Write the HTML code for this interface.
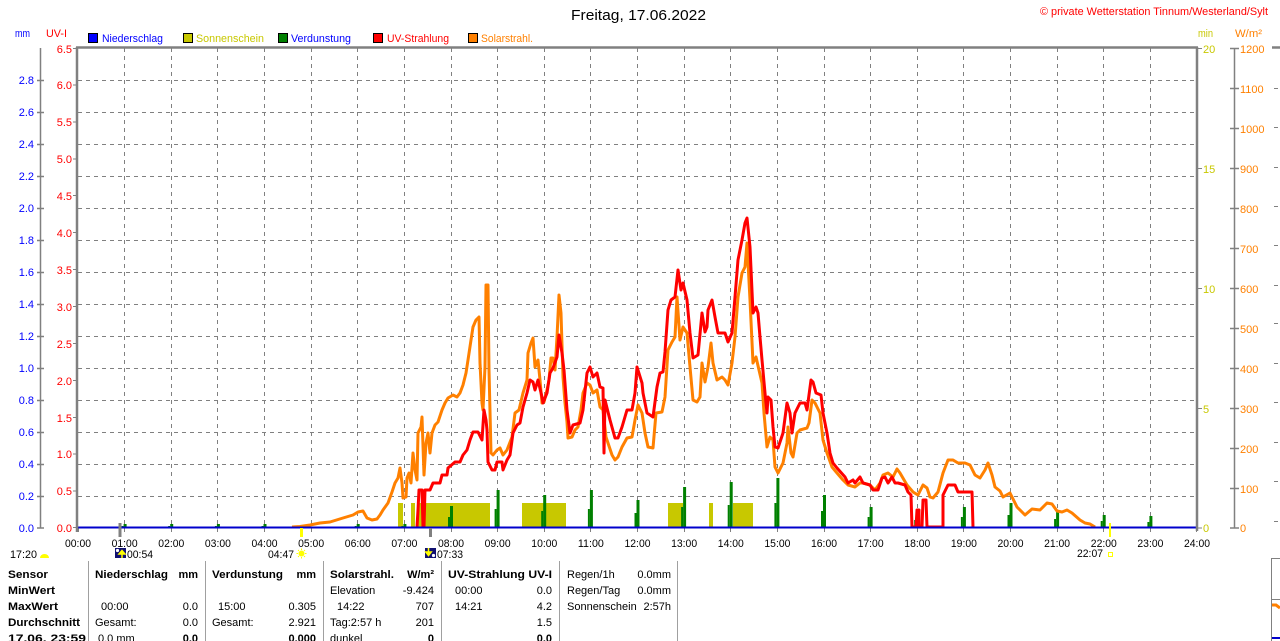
<!DOCTYPE html>
<html><head><meta charset="utf-8"><style>
html,body{margin:0;padding:0;background:#fff;}
svg{display:block;}
text{font-family:"Liberation Sans",Arial,sans-serif;font-size:11px;}
.b{font-weight:bold;}
</style></head><body>
<svg width="1280" height="641" viewBox="0 0 1280 641" xmlns="http://www.w3.org/2000/svg">
<rect x="0" y="0" width="1280" height="641" fill="#fff"/>

<!-- Title -->
<text x="571" y="20" style="font-size:15px" textLength="135" lengthAdjust="spacingAndGlyphs">Freitag, 17.06.2022</text>
<text x="1040" y="15" fill="#ff0000" textLength="228" lengthAdjust="spacingAndGlyphs">© private Wetterstation Tinnum/Westerland/Sylt</text>

<!-- axis headers -->
<text x="15" y="37" fill="#0000ff" textLength="15" lengthAdjust="spacingAndGlyphs">mm</text>
<text x="46" y="37" fill="#ff0000" textLength="21" lengthAdjust="spacingAndGlyphs">UV-I</text>
<text x="1198" y="37" fill="#c8c800" textLength="15" lengthAdjust="spacingAndGlyphs">min</text>
<text x="1235" y="37" fill="#ff8000" textLength="27" lengthAdjust="spacingAndGlyphs">W/m²</text>

<!-- legend -->
<rect x="88.5" y="33.5" width="9" height="9" fill="#0000ff" stroke="#000"/>
<text x="102" y="42" fill="#0000ff" textLength="61" lengthAdjust="spacingAndGlyphs">Niederschlag</text>
<rect x="183.5" y="33.5" width="9" height="9" fill="#c8c800" stroke="#000"/>
<text x="196" y="42" fill="#c8c800" textLength="68" lengthAdjust="spacingAndGlyphs">Sonnenschein</text>
<rect x="278.5" y="33.5" width="9" height="9" fill="#008000" stroke="#000"/>
<text x="291" y="42" fill="#0000ff" textLength="60" lengthAdjust="spacingAndGlyphs">Verdunstung</text>
<rect x="373.5" y="33.5" width="9" height="9" fill="#ff0000" stroke="#000"/>
<text x="387" y="42" fill="#ff0000" textLength="62" lengthAdjust="spacingAndGlyphs">UV-Strahlung</text>
<rect x="468.5" y="33.5" width="9" height="9" fill="#ff8000" stroke="#000"/>
<text x="481" y="42" fill="#ff8000" textLength="52" lengthAdjust="spacingAndGlyphs">Solarstrahl.</text>

<!-- grid -->
<g stroke="#808080" stroke-width="1" stroke-dasharray="4,4" fill="none">
<path d="M78 80.5H1197M78 112.5H1197M78 144.5H1197M78 176.5H1197M78 208.5H1197M78 240.5H1197M78 272.5H1197M78 304.5H1197M78 336.5H1197M78 368.5H1197M78 400.5H1197M78 432.5H1197M78 464.5H1197M78 496.5H1197"/>
<path d="M124.5 48V528M171.5 48V528M217.5 48V528M264.5 48V528M311.5 48V528M357.5 48V528M404.5 48V528M451.5 48V528M497.5 48V528M544.5 48V528M590.5 48V528M637.5 48V528M684.5 48V528M730.5 48V528M777.5 48V528M824.5 48V528M870.5 48V528M917.5 48V528M963.5 48V528M1010.5 48V528M1057.5 48V528M1103.5 48V528M1150.5 48V528"/>
</g>

<!-- hour ticks below axis -->
<g stroke="#808080" stroke-width="1">
<path d="M78.5 528V532M124.5 528V532M171.5 528V532M217.5 528V532M264.5 528V532M311.5 528V532M357.5 528V532M404.5 528V532M451.5 528V532M497.5 528V532M544.5 528V532M590.5 528V532M637.5 528V532M684.5 528V532M730.5 528V532M777.5 528V532M824.5 528V532M870.5 528V532M917.5 528V532M963.5 528V532M1010.5 528V532M1057.5 528V532M1103.5 528V532M1150.5 528V532M1196.5 528V532"/>
</g>

<!-- Sonnenschein bars -->
<g fill="#c8c800">
<rect x="398" y="503" width="5" height="25"/>
<rect x="411" y="503" width="4" height="25"/>
<rect x="417" y="503" width="73" height="25"/>
<rect x="522" y="503" width="44" height="25"/>
<rect x="668" y="503" width="15" height="25"/>
<rect x="709" y="503" width="4" height="25"/>
<rect x="733" y="503" width="20" height="25"/>
</g>

<!-- Verdunstung bars -->
<g fill="#008000">
<rect x="123.6" y="524" width="3" height="4"/><rect x="121.6" y="526" width="2" height="2"/>
<rect x="170.2" y="524" width="3" height="4"/><rect x="168.2" y="526" width="2" height="2"/>
<rect x="216.9" y="524" width="3" height="4"/><rect x="214.9" y="526" width="2" height="2"/>
<rect x="263.5" y="524" width="3" height="4"/><rect x="261.5" y="526" width="2" height="2"/>
<rect x="356.7" y="524" width="3" height="4"/><rect x="354.7" y="526" width="2" height="2"/>
<rect x="403.4" y="524" width="3" height="4"/><rect x="401.4" y="526" width="2" height="2"/>
<rect x="450" y="506" width="3" height="22"/><rect x="448" y="517" width="2" height="11"/>
<rect x="496.6" y="490" width="3" height="38"/><rect x="494.6" y="509" width="2" height="19"/>
<rect x="543.2" y="495" width="3" height="33"/><rect x="541.2" y="511" width="2" height="17"/>
<rect x="589.9" y="490" width="3" height="38"/><rect x="587.9" y="509" width="2" height="19"/>
<rect x="636.5" y="500" width="3" height="28"/><rect x="634.5" y="513" width="2" height="15"/>
<rect x="683.1" y="487" width="3" height="41"/><rect x="681.1" y="507" width="2" height="21"/>
<rect x="729.7" y="482" width="3" height="46"/><rect x="727.7" y="505" width="2" height="23"/>
<rect x="776.4" y="478" width="3" height="50"/><rect x="774.4" y="503" width="2" height="25"/>
<rect x="823" y="495" width="3" height="33"/><rect x="821" y="511" width="2" height="17"/>
<rect x="869.6" y="507" width="3" height="21"/><rect x="867.6" y="517" width="2" height="11"/>
<rect x="916.2" y="512" width="3" height="16"/><rect x="914.2" y="520" width="2" height="8"/>
<rect x="962.9" y="507" width="3" height="21"/><rect x="960.9" y="517" width="2" height="11"/>
<rect x="1009.5" y="503" width="3" height="25"/><rect x="1007.5" y="515" width="2" height="13"/>
<rect x="1056.1" y="510" width="3" height="18"/><rect x="1054.1" y="519" width="2" height="9"/>
<rect x="1102.7" y="515" width="3" height="13"/><rect x="1100.7" y="521" width="2" height="7"/>
<rect x="1149.4" y="516" width="3" height="12"/><rect x="1147.4" y="522" width="2" height="6"/>
</g>

<!-- Solarstrahlung -->
<polyline fill="none" stroke="#ff8000" stroke-width="3" stroke-linejoin="round" points="292,527 300,526.5 310,525 320,523 330,522 343,518 353,515 358,512 363,511 367,518 372,520 377,519 380,515 383,510 388,503 392,492 395,483 398,478 400,468 402,483 403,498 406,497 407,478 409,473 411,483 413,453 415,470 417,480 418,433 421,427 422,417 424,475 426,443 428,433 430,453 432,433 435,425 438,422 442,410 445,403 448,398 453,395 457,397 460,393 463,385 466,373 468,360 471,340 473,327 476,320 479,317 480,363 482,403 483,410 485,367 486,285 488,285 489,370 491,453 493,455 497,450 500,448 503,455 507,450 512,437 515,413 519,410 523,393 527,380 528,353 531,343 533,338 535,367 538,360 540,380 542,403 544,402 547,390 549,380 551,358 553,358 555,370 557,337 559,295 561,313 563,377 565,403 567,422 568,438 572,437 575,430 578,427 581,410 583,393 587,383 590,385 593,393 597,390 600,407 603,410 606,437 608,443 612,455 615,460 618,457 622,447 627,438 632,437 635,420 638,405 642,413 645,433 648,447 653,448 656,413 662,412 665,397 668,350 672,342 675,337 677,297 680,340 683,327 687,333 690,367 693,400 697,402 700,397 702,363 705,382 708,367 711,343 713,363 717,380 722,377 725,380 728,385 732,363 735,337 738,297 742,273 745,267 747,243 750,300 753,363 756,357 759,370 762,383 764,413 767,447 770,437 773,440 775,467 778,473 783,463 787,443 788,427 791,453 793,457 797,433 800,430 807,428 809,423 812,400 815,403 820,413 823,440 827,453 832,467 837,473 843,480 848,485 855,487 860,483 863,483 870,485 875,490 880,483 883,475 888,473 893,477 897,469 900,473 907,485 913,492 918,495 923,485 927,488 930,497 933,498 938,492 943,473 948,460 953,460 958,463 965,463 970,465 975,475 980,478 985,470 988,463 992,475 995,487 1000,491 1003,497 1010,493 1017,507 1025,515 1032,509 1040,510 1047,503 1052,504 1057,511 1062,512 1067,510 1072,513 1080,520 1085,523 1090,524 1095,527"/>

<!-- UV-Strahlung -->
<polyline fill="none" stroke="#ff0000" stroke-width="3" stroke-linejoin="round" points="417,527 418,510 419,490 422,490 423,527 424,527 425,490 430,490 433,483 440,483 442,475 447,475 448,468 455,462 460,462 463,455 467,450 470,440 473,432 478,432 482,440 484,410 486,420 487,430 488,462 492,470 495,470 497,462 502,462 503,470 507,460 510,455 513,433 517,425 520,423 523,407 527,393 530,380 533,382 535,390 538,380 542,397 543,403 547,393 550,373 553,368 557,357 559,335 562,353 564,370 567,410 570,433 573,425 580,423 583,410 587,373 590,367 593,377 597,373 600,387 603,388 604,453 605,400 610,420 615,438 618,438 622,427 627,410 632,410 635,393 637,367 642,383 643,393 647,413 653,417 657,387 660,373 663,372 665,352 668,310 671,300 675,297 678,270 681,290 683,283 687,300 690,333 693,358 698,355 702,313 705,332 707,327 708,310 712,300 715,317 718,333 725,333 728,342 732,333 735,297 738,260 742,240 745,223 747,218 750,247 753,313 756,307 758,313 760,337 762,360 765,393 767,413 768,397 771,400 773,427 775,447 778,448 783,433 787,403 790,413 792,433 795,413 800,403 805,403 807,410 811,380 813,382 816,393 821,395 823,413 827,433 830,453 833,463 837,468 845,477 848,483 853,480 855,483 860,477 863,483 870,485 873,490 878,490 882,478 885,477 888,483 892,477 895,483 898,483 905,485 908,492 911,495 912,527 916,527 917,510 919,510 919,527 922,527 923,500 926,500 927,527 943,527 943,495 948,485 955,485 958,492 972,492 973,527"/>

<!-- precipitation baseline -->
<rect x="78" y="526.5" width="1119" height="2" fill="#0000cc"/>

<!-- plot border -->
<g stroke="#808080" fill="none">
<path d="M76 47.5H1198" stroke-width="2.5"/>
<path d="M77 47V532" stroke-width="2.5"/>
<path d="M1197 47V531" stroke-width="2.5"/>
</g>

<!-- left mm axis -->
<g stroke="#808080" stroke-width="1.5">
<path d="M40.5 48V528"/>
<path d="M37 80.5H44M37 112.5H44M37 144.5H44M37 176.5H44M37 208.5H44M37 240.5H44M37 272.5H44M37 304.5H44M37 336.5H44M37 368.5H44M37 400.5H44M37 432.5H44M37 464.5H44M37 496.5H44M37 528H44"/>
</g>
<g fill="#0000ff" text-anchor="end">
<text x="34" y="84">2.8</text><text x="34" y="116">2.6</text><text x="34" y="148">2.4</text><text x="34" y="180">2.2</text><text x="34" y="212">2.0</text><text x="34" y="244">1.8</text><text x="34" y="276">1.6</text><text x="34" y="308">1.4</text><text x="34" y="340">1.2</text><text x="34" y="372">1.0</text><text x="34" y="404">0.8</text><text x="34" y="436">0.6</text><text x="34" y="468">0.4</text><text x="34" y="500">0.2</text><text x="34" y="532">0.0</text>
</g>

<!-- UV axis -->
<g stroke="#808080" stroke-width="1">
<path d="M73 48.5H77M73 85H77M73 122H77M73 159H77M73 195.5H77M73 232.5H77M73 269.5H77M73 306.5H77M73 343.5H77M73 380.5H77M73 417.5H77M73 454H77M73 491H77M73 527.5H77"/>
</g>
<g fill="#ff0000" text-anchor="end">
<text x="72" y="53">6.5</text><text x="72" y="89">6.0</text><text x="72" y="126">5.5</text><text x="72" y="163">5.0</text><text x="72" y="200">4.5</text><text x="72" y="237">4.0</text><text x="72" y="274">3.5</text><text x="72" y="311">3.0</text><text x="72" y="348">2.5</text><text x="72" y="385">2.0</text><text x="72" y="422">1.5</text><text x="72" y="458">1.0</text><text x="72" y="495">0.5</text><text x="72" y="532">0.0</text>
</g>

<!-- right min axis -->
<g stroke="#808080" stroke-width="1">
<path d="M1197 48.5H1202M1197 168.5H1202M1197 288.5H1202M1197 408.5H1202M1197 528H1202"/>
</g>
<g fill="#c8c800">
<text x="1203" y="53">20</text><text x="1203" y="173">15</text><text x="1203" y="293">10</text><text x="1203" y="413">5</text><text x="1203" y="532">0</text>
</g>

<!-- right W/m2 axis -->
<g stroke="#808080" stroke-width="1.5">
<path d="M1234.5 48V528"/>
<path d="M1230 48.5H1239M1230 88.5H1239M1230 128.5H1239M1230 168.5H1239M1230 208.5H1239M1230 248.5H1239M1230 288.5H1239M1230 328.5H1239M1230 368.5H1239M1230 408.5H1239M1230 448.5H1239M1230 488.5H1239M1230 528H1239"/>
</g>
<g fill="#ff8000">
<text x="1240" y="53">1200</text><text x="1240" y="93">1100</text><text x="1240" y="133">1000</text><text x="1240" y="173">900</text><text x="1240" y="213">800</text><text x="1240" y="253">700</text><text x="1240" y="293">600</text><text x="1240" y="333">500</text><text x="1240" y="373">400</text><text x="1240" y="413">300</text><text x="1240" y="453">200</text><text x="1240" y="493">100</text><text x="1240" y="532">0</text>
</g>

<!-- right partial chart -->
<path d="M1272 47.5H1280" stroke="#808080" stroke-width="2.5"/>
<g stroke="#808080" stroke-width="1" stroke-dasharray="4,4">
<path d="M1274 88.5H1280M1274 127.5H1280M1274 167.5H1280M1274 206.5H1280M1274 245.5H1280M1274 285.5H1280M1274 323.5H1280M1274 363.5H1280M1274 402.5H1280M1274 442.5H1280M1274 481.5H1280M1274 521.5H1280"/>
</g>
<path d="M1271.5 558V641M1271 558.5H1280M1272 599.5H1280" stroke="#808080" stroke-width="1"/>
<polyline points="1272,605 1276,605 1280,608" fill="none" stroke="#ff8000" stroke-width="3"/>
<rect x="1272" y="637" width="8" height="2" fill="#0000cc"/>

<!-- sun/moon markers on axis -->
<rect x="118.5" y="523" width="3" height="14" fill="#808080"/>
<rect x="300" y="528" width="3" height="9" fill="#ffff00"/>
<rect x="429" y="528" width="3" height="9" fill="#808080"/>
<rect x="1109" y="523" width="2" height="14" fill="#ffff00"/>

<!-- x labels -->
<g text-anchor="middle">
<text x="78" y="547" textLength="26" lengthAdjust="spacingAndGlyphs">00:00</text>
<text x="124.6" y="547" textLength="26" lengthAdjust="spacingAndGlyphs">01:00</text>
<text x="171.3" y="547" textLength="26" lengthAdjust="spacingAndGlyphs">02:00</text>
<text x="217.9" y="547" textLength="26" lengthAdjust="spacingAndGlyphs">03:00</text>
<text x="264.5" y="547" textLength="26" lengthAdjust="spacingAndGlyphs">04:00</text>
<text x="311.1" y="547" textLength="26" lengthAdjust="spacingAndGlyphs">05:00</text>
<text x="357.8" y="547" textLength="26" lengthAdjust="spacingAndGlyphs">06:00</text>
<text x="404.4" y="547" textLength="26" lengthAdjust="spacingAndGlyphs">07:00</text>
<text x="451" y="547" textLength="26" lengthAdjust="spacingAndGlyphs">08:00</text>
<text x="497.6" y="547" textLength="26" lengthAdjust="spacingAndGlyphs">09:00</text>
<text x="544.3" y="547" textLength="26" lengthAdjust="spacingAndGlyphs">10:00</text>
<text x="590.9" y="547" textLength="26" lengthAdjust="spacingAndGlyphs">11:00</text>
<text x="637.5" y="547" textLength="26" lengthAdjust="spacingAndGlyphs">12:00</text>
<text x="684.1" y="547" textLength="26" lengthAdjust="spacingAndGlyphs">13:00</text>
<text x="730.8" y="547" textLength="26" lengthAdjust="spacingAndGlyphs">14:00</text>
<text x="777.4" y="547" textLength="26" lengthAdjust="spacingAndGlyphs">15:00</text>
<text x="824" y="547" textLength="26" lengthAdjust="spacingAndGlyphs">16:00</text>
<text x="870.6" y="547" textLength="26" lengthAdjust="spacingAndGlyphs">17:00</text>
<text x="917.3" y="547" textLength="26" lengthAdjust="spacingAndGlyphs">18:00</text>
<text x="963.9" y="547" textLength="26" lengthAdjust="spacingAndGlyphs">19:00</text>
<text x="1010.5" y="547" textLength="26" lengthAdjust="spacingAndGlyphs">20:00</text>
<text x="1057.1" y="547" textLength="26" lengthAdjust="spacingAndGlyphs">21:00</text>
<text x="1103.8" y="547" textLength="26" lengthAdjust="spacingAndGlyphs">22:00</text>
<text x="1150.4" y="547" textLength="26" lengthAdjust="spacingAndGlyphs">23:00</text>
<text x="1197" y="547" textLength="26" lengthAdjust="spacingAndGlyphs">24:00</text>
</g>

<!-- sun/moon row -->
<text x="10" y="558" textLength="27" lengthAdjust="spacingAndGlyphs">17:20</text>
<path d="M40 558 A4.5 4 0 0 1 49 558 Z" fill="#ffff00"/>
<rect x="115" y="548" width="11" height="10" fill="#101070"/>
<circle cx="117.5" cy="550.5" r="1.6" fill="#fff"/>
<path d="M122 558V551M119 554L122 550.5L125 554Z" stroke="#ffff00" stroke-width="1.5" fill="#ffff00"/>
<text x="127" y="558" textLength="26" lengthAdjust="spacingAndGlyphs">00:54</text>
<text x="268" y="558" textLength="26" lengthAdjust="spacingAndGlyphs">04:47</text>
<circle cx="301.5" cy="553.5" r="3" fill="#ffff00"/>
<path d="M301.5 548.5V550M301.5 557V558.5M296.5 553.5H298M305 553.5H306.5M298 550L299 551M305 550L304 551M298 557L299 556M305 557L304 556" stroke="#ffff00" stroke-width="1"/>
<rect x="425" y="548" width="11" height="10" fill="#101070"/>
<circle cx="433.5" cy="555.5" r="1.6" fill="#fff"/>
<path d="M428.5 548V555M425.8 552L428.5 555.5L431.2 552Z" stroke="#ffff00" stroke-width="1.5" fill="#ffff00"/>
<text x="437" y="558" textLength="26" lengthAdjust="spacingAndGlyphs">07:33</text>
<text x="1077" y="557" textLength="26" lengthAdjust="spacingAndGlyphs">22:07</text>
<rect x="1108.5" y="552.5" width="4" height="4" fill="none" stroke="#ffff00" stroke-width="1"/>

<!-- table separators -->
<g stroke="#a0a0a0" stroke-width="1">
<path d="M88.5 561V641M205.5 561V641M323.5 561V641M441.5 561V641M559.5 561V641M677.5 561V641"/>
</g>

<!-- table col1 -->
<text class="b" x="8" y="578" textLength="40" lengthAdjust="spacingAndGlyphs">Sensor</text>
<text class="b" x="8" y="594" textLength="47" lengthAdjust="spacingAndGlyphs">MinWert</text>
<text class="b" x="8" y="610" textLength="50" lengthAdjust="spacingAndGlyphs">MaxWert</text>
<text class="b" x="8" y="626" textLength="72" lengthAdjust="spacingAndGlyphs">Durchschnitt</text>
<text class="b" x="8" y="642" textLength="78" lengthAdjust="spacingAndGlyphs">17.06. 23:59</text>

<!-- col2 -->
<text class="b" x="95" y="578" textLength="73" lengthAdjust="spacingAndGlyphs">Niederschlag</text>
<text class="b" x="198" y="578" text-anchor="end">mm</text>
<text x="101" y="610">00:00</text>
<text x="198" y="610" text-anchor="end">0.0</text>
<text x="95" y="626">Gesamt:</text>
<text x="198" y="626" text-anchor="end">0.0</text>
<text x="98" y="642">0.0 mm</text>
<text class="b" x="198" y="642" text-anchor="end">0.0</text>

<!-- col3 -->
<text class="b" x="212" y="578" textLength="71" lengthAdjust="spacingAndGlyphs">Verdunstung</text>
<text class="b" x="316" y="578" text-anchor="end">mm</text>
<text x="218" y="610">15:00</text>
<text x="316" y="610" text-anchor="end">0.305</text>
<text x="212" y="626">Gesamt:</text>
<text x="316" y="626" text-anchor="end">2.921</text>
<text class="b" x="316" y="642" text-anchor="end">0.000</text>

<!-- col4 -->
<text class="b" x="330" y="578" textLength="64" lengthAdjust="spacingAndGlyphs">Solarstrahl.</text>
<text class="b" x="434" y="578" text-anchor="end">W/m²</text>
<text x="330" y="594">Elevation</text>
<text x="434" y="594" text-anchor="end">-9.424</text>
<text x="337" y="610">14:22</text>
<text x="434" y="610" text-anchor="end">707</text>
<text x="330" y="626">Tag:2:57 h</text>
<text x="434" y="626" text-anchor="end">201</text>
<text x="330" y="642">dunkel</text>
<text class="b" x="434" y="642" text-anchor="end">0</text>

<!-- col5 -->
<text class="b" x="448" y="578" textLength="104" lengthAdjust="spacingAndGlyphs">UV-Strahlung UV-I</text>
<text x="455" y="594">00:00</text>
<text x="552" y="594" text-anchor="end">0.0</text>
<text x="455" y="610">14:21</text>
<text x="552" y="610" text-anchor="end">4.2</text>
<text x="552" y="626" text-anchor="end">1.5</text>
<text class="b" x="552" y="642" text-anchor="end">0.0</text>

<!-- col6 -->
<text x="567" y="578">Regen/1h</text>
<text x="671" y="578" text-anchor="end">0.0mm</text>
<text x="567" y="594">Regen/Tag</text>
<text x="671" y="594" text-anchor="end">0.0mm</text>
<text x="567" y="610">Sonnenschein</text>
<text x="671" y="610" text-anchor="end">2:57h</text>
</svg>
</body></html>
